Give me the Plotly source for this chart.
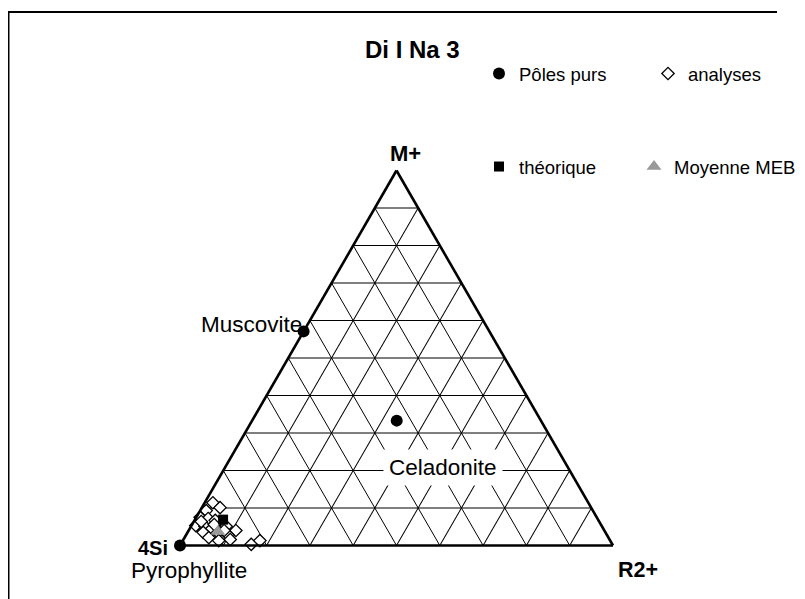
import plotly.graph_objects as go

# Page is 805x599; the HTML body has an 8px margin, so the figure is 797x591.
PAGE_OFF = 8
W, H = 805 - PAGE_OFF, 599 - PAGE_OFF

# Pure end-members: (M+, 4Si, R2+)
pole_names = ["Pyrophyllite", "Muscovite", "Celadonite"]
pole_m = [0.0, 0.571, 0.333]
pole_si = [1.0, 0.429, 0.333]
pole_r2 = [0.0, 0.0, 0.334]

# Analyses
ana_m = [0.114, 0.101, 0.093, 0.075, 0.072, 0.067, 0.053, 0.051, 0.045, 0.051, 0.040,
         0.035, 0.035, 0.027, 0.021, 0.013, 0.016, 0.003, 0.013, 0.056, 0.064, 0.040]
ana_r2 = [0.019, 0.042, 0.014, 0.009, 0.029, 0.048, 0.010, 0.032, 0.051, 0.081, 0.109,
          0.036, 0.070, 0.098, 0.056, 0.083, 0.108, 0.163, 0.178, 0.051, 0.017, 0.082]
ana_si = [0.867, 0.857, 0.893, 0.916, 0.899, 0.885, 0.937, 0.917, 0.904, 0.868, 0.851,
          0.929, 0.895, 0.875, 0.923, 0.904, 0.876, 0.834, 0.809, 0.893, 0.919, 0.878]

# Theoretical composition
theo_m = [0.069]
theo_si = [0.866]
theo_r2 = [0.065]

# SEM mean
meb_m = [0.037]
meb_si = [0.894]
meb_r2 = [0.069]

title_text = "Di I Na 3"
apex_labels = ["M+", "4Si", "R2+"]

FONT = "Liberation Sans, Arial, sans-serif"


def px(x):
    """page pixel x -> paper fraction"""
    return (x - PAGE_OFF) / W


def py(y):
    """page pixel y -> paper fraction"""
    return 1 - (y - PAGE_OFF) / H


fig = go.Figure()

fig.add_trace(go.Scatterternary(
    a=pole_m, b=pole_si, c=pole_r2, mode="markers", name="Pôles purs",
    text=pole_names, cliponaxis=False, legend="legend",
    marker=dict(symbol="circle", size=12, color="black", line=dict(width=0)),
))
fig.add_trace(go.Scatterternary(
    a=ana_m, b=ana_si, c=ana_r2, mode="markers", name="analyses",
    cliponaxis=False, legend="legend2",
    marker=dict(symbol="diamond", size=9.5, color="white", line=dict(width=1.3, color="black")),
))
fig.add_trace(go.Scatterternary(
    a=theo_m, b=theo_si, c=theo_r2, mode="markers", name="théorique",
    cliponaxis=False, legend="legend3",
    marker=dict(symbol="square", size=10, color="black", line=dict(width=0)),
))
fig.add_trace(go.Scatterternary(
    a=meb_m, b=meb_si, c=meb_r2, mode="markers", name="Moyenne MEB",
    cliponaxis=False, legend="legend4",
    marker=dict(symbol="triangle-up", size=13, color="#999999", line=dict(width=0)),
))

axis_common = dict(
    title=dict(text=""),
    showgrid=True, gridcolor="black", gridwidth=1.1,
    tick0=0, dtick=0.1, ticks="", showticklabels=False,
    showline=True, linecolor="black", linewidth=2.6, min=0,
)


def legend_box(x, y, xanchor="left"):
    return dict(
        orientation="v", x=x, y=y, xanchor=xanchor, yanchor="middle",
        font=dict(family=FONT, size=18.5, color="black"),
        bgcolor="rgba(0,0,0,0)", borderwidth=0,
    )


fig.update_layout(
    width=W, height=H,
    margin=dict(l=0, r=0, t=0, b=0),
    paper_bgcolor="white",
    font=dict(family=FONT, color="black"),
    ternary=dict(
        sum=1,
        bgcolor="white",
        domain=dict(x=[px(180), px(613)], y=[py(546), py(170)]),
        aaxis=axis_common,
        baxis=axis_common,
        caxis=axis_common,
    ),
    legend=legend_box(px(479), py(74)),
    legend2=legend_box(px(648), py(74)),
    legend3=legend_box(px(479), py(167)),
    legend4=legend_box(px(801), py(167), xanchor="right"),
    showlegend=True,
)

annotations = [
    dict(text="<b>" + title_text + "</b>", x=px(412), y=py(49), font=dict(size=24)),
    dict(text="<b>" + apex_labels[0] + "</b>", x=px(405), y=py(153), font=dict(size=22)),
    dict(text="<b>" + apex_labels[1] + "</b>", x=px(153), y=py(548), font=dict(size=20)),
    dict(text="<b>" + apex_labels[2] + "</b>", x=px(638), y=py(570), font=dict(size=21.5)),
    dict(text=pole_names[0], x=px(189), y=py(570), font=dict(size=22.5)),
    dict(text=pole_names[1], x=px(251), y=py(324), font=dict(size=22.5)),
    dict(text=pole_names[2], x=px(443), y=py(467), font=dict(size=22.5),
         bgcolor="white", borderpad=5),
]
for a in annotations:
    a.update(xref="paper", yref="paper", showarrow=False,
             xanchor="center", yanchor="middle")
    a["font"].update(family=FONT, color="black")
fig.update_layout(annotations=annotations)

fig.update_layout(shapes=[
    dict(type="line", xref="paper", yref="paper", x0=px(8.5), x1=px(8.5), y0=py(12), y1=0,
         line=dict(color="black", width=2)),
    dict(type="line", xref="paper", yref="paper", x0=px(7.5), x1=px(777), y0=py(12), y1=py(12),
         line=dict(color="black", width=2)),
])

fig.write_html("out.html")
